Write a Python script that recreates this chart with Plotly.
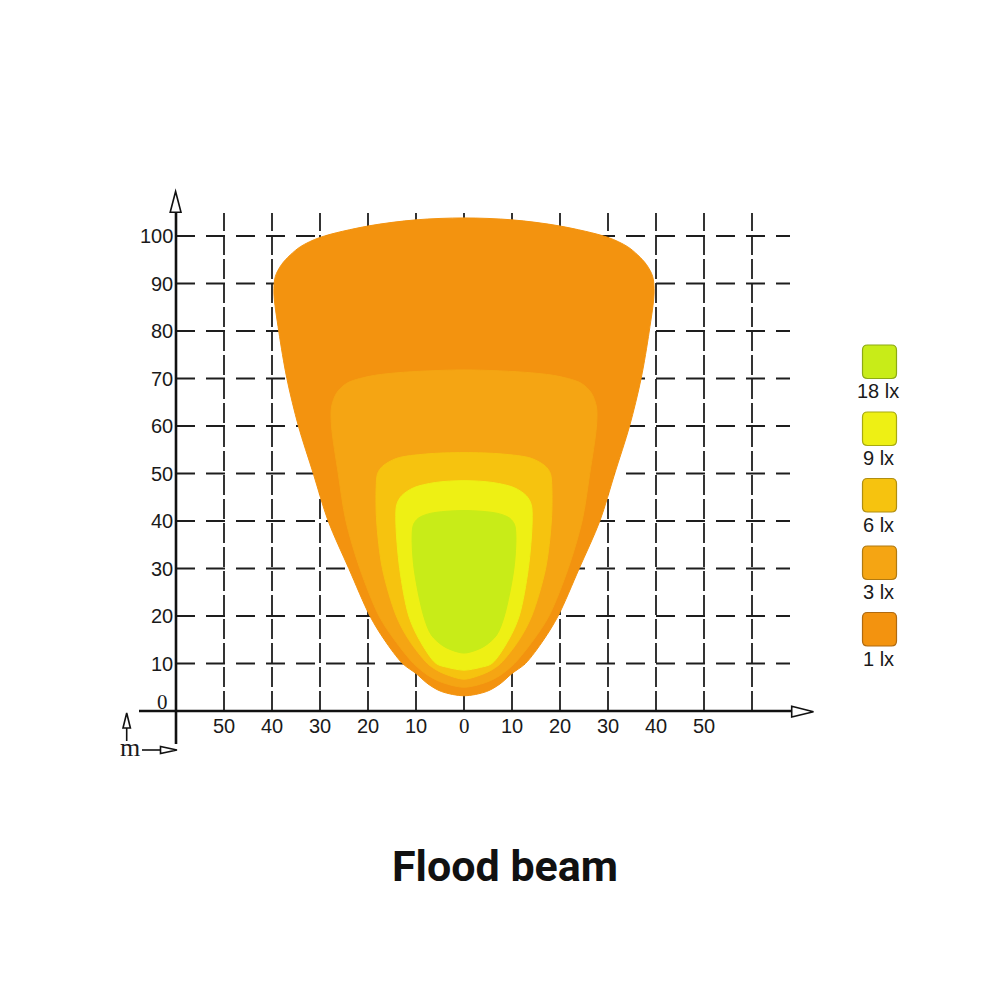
import plotly.graph_objects as go

# ---------------- data ----------------
levels = ["1 lx", "3 lx", "6 lx", "9 lx", "18 lx"]
level_colors = ["#F3930F", "#F5A513", "#F6C30F", "#EEF014", "#C8EC18"]
legend_border = ["#B06A10", "#B07A12", "#B08E10", "#A8AA10", "#8CAA14"]

# contour half-widths (m) at distances (m), symmetric about x=0
c1_y = [3.2, 4.1, 5.7, 7.9, 10, 15, 20, 30, 40, 50, 60, 70, 80, 88, 91.5, 94, 96, 97.8, 99.7, 102.1, 103.4, 103.8]
c1_w = [0, 4.7, 7.5, 10.0, 12.8, 16.6, 19.6, 24.0, 28.3, 31.4, 34.5, 36.9, 38.6, 39.6, 39.3, 38.0, 36.2, 34.0, 30.0, 20.0, 10.0, 0]
c3_y = [5.0, 6.0, 7.5, 10, 15, 20, 30, 40, 50, 60, 64, 67, 69, 70.4, 71.2, 71.8]
c3_w = [0, 4.5, 7.5, 10.5, 14.5, 17.7, 21.7, 24.6, 26.2, 27.6, 27.6, 26.5, 24.4, 20.0, 14.0, 0]
c6_y = [6.7, 7.6, 8.5, 10, 15, 20, 30, 40, 47, 50, 51.5, 53.2, 54.1, 54.4]
c6_w = [0, 3.5, 5.5, 7.6, 11.5, 14.1, 17.0, 18.2, 18.3, 18.0, 17.0, 14.0, 8.0, 0]
c9_y = [8.6, 9.2, 10, 15, 20, 30, 40, 43.5, 45.3, 47, 48.1, 48.5]
c9_w = [0, 3.5, 5.8, 9.3, 11.5, 13.4, 14.2, 14.0, 13.0, 10.5, 6.0, 0]
c18_y = [12.2, 12.8, 13.8, 16, 20, 30, 37, 39.3, 40.6, 41.6, 42.2]
c18_w = [0, 2.5, 4.5, 6.8, 8.4, 10.4, 10.8, 10.5, 9.5, 7.0, 0]
contours = [(c1_y, c1_w), (c3_y, c3_w), (c6_y, c6_w), (c9_y, c9_w), (c18_y, c18_w)]

y_ticks = [10, 20, 30, 40, 50, 60, 70, 80, 90, 100]
x_tick_pos = [-50, -40, -30, -20, -10, 0, 10, 20, 30, 40, 50]
x_tick_text = ["50", "40", "30", "20", "10", "0", "10", "20", "30", "40", "50"]
x_grid = [-50, -40, -30, -20, -10, 0, 10, 20, 30, 40, 50, 60]

title = "Flood beam"

# ---------------- scale helpers (screen pixel <-> data) ----------------
OFF = 8.0  # page body margin: figure pixel = screen pixel - OFF
X0, SX = 464.0 - OFF, 4.8
Y0, SY = 711.0 - OFF, 4.75
def X(px):  # px: screen pixel
    return (px - OFF - X0) / SX
def Y(py):
    return (Y0 - (py - OFF)) / SY
def PX(px):  # screen pixel -> paper
    return (px - OFF) / 1000
def PY(py):
    return 1 - (py - OFF) / 1000

fig = go.Figure()

# beam contours
for (ys, ws), col, name in zip(contours, level_colors, levels):
    xs = list(ws) + [-w for w in reversed(ws[:-1])]
    yy = list(ys) + list(reversed(ys[:-1]))
    fig.add_trace(go.Scatter(
        x=xs, y=yy, mode="lines", fill="toself", fillcolor=col,
        line=dict(color=col, width=1, shape="spline", smoothing=0.9),
        name=name, hoverinfo="skip", showlegend=False))

shapes = []
GRID = "#1e1e1e"
for gx in x_grid:
    shapes.append(dict(type="line", x0=gx, x1=gx, y0=0, y1=Y(213),
                       line=dict(color=GRID, width=1.8, dash="20px,4px"), layer="below"))
for gy in y_ticks:
    shapes.append(dict(type="line", x0=-60, x1=X(790), y0=gy, y1=gy,
                       line=dict(color=GRID, width=1.8, dash="19px,11px"), layer="below"))

AX = "#111111"
shapes.append(dict(type="line", x0=-60, x1=-60, y0=Y(744), y1=Y(212),
                   line=dict(color=AX, width=2.6), layer="above"))
shapes.append(dict(type="line", x0=X(139), x1=X(792), y0=0, y1=0,
                   line=dict(color=AX, width=2.6), layer="above"))

def tri(pts):
    p = "M " + " L ".join(f"{X(a)},{Y(b)}" for a, b in pts) + " Z"
    return dict(type="path", path=p, fillcolor="white",
                line=dict(color=AX, width=1.6), layer="above")

shapes.append(tri([(170.2, 212.3), (181.0, 212.3), (175.6, 191.5)]))
shapes.append(tri([(791.7, 706.3), (791.7, 717.0), (813.5, 711.7)]))
shapes.append(dict(type="line", x0=X(126.7), x1=X(126.7), y0=Y(741), y1=Y(728),
                   line=dict(color=AX, width=1.6), layer="above"))
shapes.append(tri([(123.0, 728), (130.4, 728), (126.7, 713)]))
shapes.append(dict(type="line", x0=X(142), x1=X(161), y0=Y(750), y1=Y(750),
                   line=dict(color=AX, width=1.6), layer="above"))
shapes.append(tri([(160.5, 746.5), (160.5, 753.5), (177, 750)]))

# legend squares (rounded)
sq_top = [345, 412, 478.5, 546, 612.5]
sq_x0, sq_x1, sq_h, r = 862.5, 896.5, 33.5, 5
legend_order = [4, 3, 2, 1, 0]
annotations = []
for top, idx in zip(sq_top, legend_order):
    x0, x1, y0, y1 = sq_x0, sq_x1, top, top + sq_h
    def P(a, b):
        return f"{PX(a)},{PY(b)}"
    path = (f"M {P(x0+r, y0)} L {P(x1-r, y0)} Q {P(x1, y0)} {P(x1, y0+r)} "
            f"L {P(x1, y1-r)} Q {P(x1, y1)} {P(x1-r, y1)} L {P(x0+r, y1)} "
            f"Q {P(x0, y1)} {P(x0, y1-r)} L {P(x0, y0+r)} Q {P(x0, y0)} {P(x0+r, y0)} Z")
    shapes.append(dict(type="path", xref="paper", yref="paper", path=path,
                       fillcolor=level_colors[idx],
                       line=dict(color=legend_border[idx], width=1.2)))
    annotations.append(dict(xref="paper", yref="paper", x=PX(878), y=PY(top + 46),
                            text=levels[idx], showarrow=False, xanchor="center", yanchor="middle",
                            font=dict(family="Liberation Sans, Arial", size=20, color="#1a1a1a")))

SANS = "Liberation Sans, Arial"
SERIF = "Liberation Serif, Times New Roman"
for v in y_ticks:
    annotations.append(dict(x=-60, y=v, text=str(v), showarrow=False, xanchor="right",
                            yanchor="middle", xshift=-1,
                            font=dict(family=SANS, size=20, color="#1a1a1a")))
annotations.append(dict(x=X(162), y=Y(702), text="0", showarrow=False, xanchor="center",
                        yanchor="middle", font=dict(family=SERIF, size=21, color="#1a1a1a")))
for p, t in zip(x_tick_pos, x_tick_text):
    annotations.append(dict(x=p, y=Y(726), text=t, showarrow=False, xanchor="center",
                            yanchor="middle",
                            font=dict(family=SERIF if p == 0 else SANS,
                                      size=21 if p == 0 else 20, color="#1a1a1a")))
annotations.append(dict(x=X(130), y=Y(747), text="m", showarrow=False, xanchor="center",
                        yanchor="middle", font=dict(family=SERIF, size=26, color="#1a1a1a")))
annotations.append(dict(xref="paper", yref="paper", x=PX(505), y=PY(866), text="<b>" + title + "</b>",
                        showarrow=False, xanchor="center", yanchor="middle",
                        font=dict(family="Roboto, DejaVu Sans", size=43, color="#111111")))

fig.update_layout(
    width=1000, height=1000,
    margin=dict(l=0, r=0, t=0, b=0),
    paper_bgcolor="white", plot_bgcolor="white",
    xaxis=dict(range=[(0 - X0) / SX, (1000 - X0) / SX], visible=False, fixedrange=True),
    yaxis=dict(range=[(Y0 - 1000) / SY, Y0 / SY], visible=False, fixedrange=True),
    shapes=shapes, annotations=annotations, showlegend=False,
)

fig.write_html("out.html")
